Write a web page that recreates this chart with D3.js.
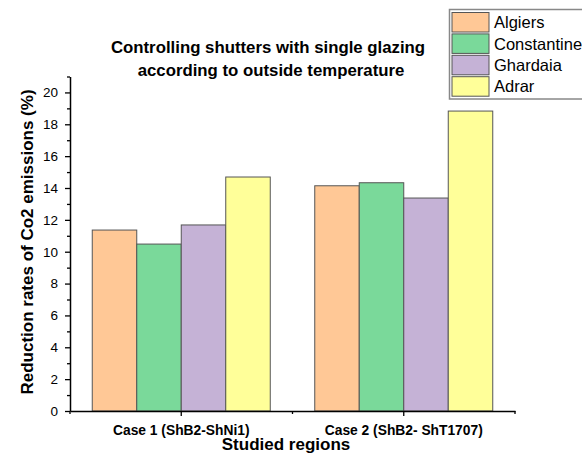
<!DOCTYPE html>
<html><head><meta charset="utf-8">
<script src="https://cdn.jsdelivr.net/npm/d3@7"></script>
<style>body{margin:0;background:#fff}svg{display:block;font-family:Arial,"Liberation Sans",sans-serif}</style>
</head><body>
<svg id="c" width="582" height="455"></svg>
<script>
const categories = ["Case 1 (ShB2-ShNi1)", "Case 2 (ShB2- ShT1707)"];
const seriesNames = ["Algiers", "Constantine", "Ghardaia", "Adrar"];
const algiers = [11.36, 14.14];
const constantine = [10.48, 14.33];
const ghardaia = [11.68, 13.37];
const adrar = [14.69, 18.83];
const yTicks = [0, 2, 4, 6, 8, 10, 12, 14, 16, 18, 20];
const colors = ["#FFC896", "#7AD99A", "#C5B2D6", "#FFFF99"];
const values = [algiers, constantine, ghardaia, adrar];

const svg = d3.select("#c");
const mLeft = 70, mRight = 515, mTop = 76.5, mBottom = 411;
const x = d3.scaleBand().domain(categories).range([mLeft, mRight]).padding(0);
const inner = d3.scaleBand().domain(seriesNames).range([0, x.bandwidth()]).paddingOuter(0.5).paddingInner(0);
const y = d3.scaleLinear().domain([0, 21]).range([mBottom, mTop]);

// bars
categories.forEach((c, ci) => {
  seriesNames.forEach((s, si) => {
    svg.append("rect")
      .attr("x", x(c) + inner(s))
      .attr("y", y(values[si][ci]))
      .attr("width", inner.bandwidth())
      .attr("height", y(0) - y(values[si][ci]))
      .attr("fill", colors[si])
      .attr("stroke", "#555")
      .attr("stroke-width", 1);
  });
});

// y axis
const yMinor = d3.range(1, 22, 2);
svg.append("g").attr("transform", `translate(${mLeft},0)`)
  .call(d3.axisLeft(y).tickValues(yMinor).tickSize(3).tickFormat(""))
  .call(g => g.select(".domain").remove())
  .selectAll("line").attr("stroke", "#000").attr("stroke-width", 1.3);
const ya = svg.append("g").attr("transform", `translate(${mLeft},0)`)
  .call(d3.axisLeft(y).tickValues(yTicks).tickSize(5).tickPadding(7).tickSizeOuter(0));
ya.select(".domain").attr("stroke", "#000").attr("stroke-width", 1.5);
ya.selectAll("line").attr("stroke-width", 1.3);
ya.selectAll("text").attr("font-size", 13.5).attr("font-family", "Arial, Liberation Sans, sans-serif").attr("fill", "#000");

// x axis
const xa = svg.append("g").attr("transform", `translate(0,${mBottom})`)
  .call(d3.axisBottom(x).tickSize(5).tickPadding(9).tickSizeOuter(0));
xa.select(".domain").attr("stroke-width", 1.5);
xa.selectAll("line").attr("stroke-width", 1.3);
xa.selectAll("text").attr("font-size", 13.8).attr("font-weight", "bold").attr("font-family", "Arial, Liberation Sans, sans-serif").attr("fill", "#000");
const bounds = [mLeft, mLeft + x.bandwidth(), mRight];
svg.append("g").selectAll("line").data(bounds).join("line")
  .attr("x1", d => d).attr("x2", d => d).attr("y1", mBottom).attr("y2", mBottom + 3)
  .attr("stroke", "#000").attr("stroke-width", 1.3);

// axis titles
svg.append("text").attr("x", 286).attr("y", 450).attr("text-anchor", "middle")
  .attr("font-size", 17).attr("font-weight", "bold").text("Studied regions");
svg.append("text").attr("transform", "translate(27,242) rotate(-90)").attr("text-anchor", "middle")
  .attr("dy", "0.35em").attr("font-size", 17).attr("font-weight", "bold")
  .text("Reduction rates of Co2 emissions (%)");

// title
const title = svg.append("text").attr("text-anchor", "middle").attr("font-size", 16.8).attr("font-weight", "bold");
title.append("tspan").attr("x", 268).attr("y", 53).text("Controlling shutters with single glazing");
title.append("tspan").attr("x", 271).attr("y", 76).text("according to outside temperature");

// legend
const lg = svg.append("g");
lg.append("rect").attr("x", 449.5).attr("y", 9.5).attr("width", 160).attr("height", 89.5)
  .attr("fill", "#fff").attr("stroke", "#888").attr("stroke-width", 1.5);
seriesNames.forEach((s, i) => {
  const yy = 12.5 + i * 21.4;
  lg.append("rect").attr("x", 452).attr("y", yy).attr("width", 37).attr("height", 19.5)
    .attr("fill", colors[i]).attr("stroke", "#555").attr("stroke-width", 1);
  lg.append("text").attr("x", 494).attr("y", yy + 10).attr("dy", "0.35em")
    .attr("font-size", 16.5).text(s);
});
</script>
</body></html>
